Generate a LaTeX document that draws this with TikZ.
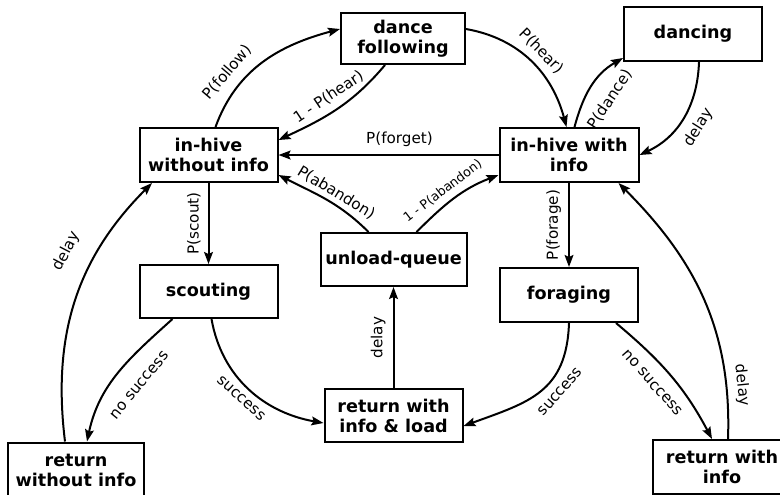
\documentclass[tikz,border=0pt]{standalone}
\usepackage{fontspec}
\setmainfont{DejaVu Sans}
\usetikzlibrary{arrows.meta}

\begin{document}
\begin{tikzpicture}[x=0.5pt,y=0.5pt,
	state/.style={draw,line width=1pt,align=center,minimum width=69pt,minimum height=26.5pt,inner sep=1pt,font=\fontsize{8.8}{10}\selectfont\bfseries},
	trans/.style={line width=1pt,-{Stealth[length=6pt,width=4.4pt,inset=1pt]}},
	lbl/.style={sloped,inner sep=3.5pt,font=\fontsize{7.6}{9}\selectfont},
	smalllbl/.style={lbl,inner sep=3pt,font=\fontsize{6.4}{8}\selectfont},
	vlbl/.style={rotate=90,anchor=south,inner sep=3.5pt,font=\fontsize{7.6}{9}\selectfont}]
	\useasboundingbox (0,0) rectangle (780,-494);

	\node[state,minimum width=62pt,minimum height=25.5pt] (follow) at (403,-38.5) {dance\\following};
	\node[state,minimum height=27pt] (dance) at (693,-34) {dancing};
	\node[state,minimum height=27pt] (nohive) at (208.5,-155) {in-hive\\without info};
	\node[state,minimum width=69.5pt,minimum height=27pt] (hive) at (569,-155) {in-hive with\\info};
	\node[state,minimum width=73pt] (unload) at (393.5,-259.5) {unload-queue};
	\node[state] (scout) at (208.5,-291.5) {scouting};
	\node[state,minimum height=27pt] (forage) at (569,-295) {foraging};
	\node[state] (retload) at (393.5,-415.5) {return with\\info \& load};
	\node[state,minimum width=68pt,minimum height=27.5pt] (retnone) at (76,-470) {return\\without info};
	\node[state,minimum height=27pt] (retinfo) at (722,-467) {return with\\info};

	\draw[trans] ([xshift=3.5pt]nohive.north) to[out=70,in=195] node[lbl,pos=0.3,above=1pt] {P(follow)} ([yshift=4.75pt]follow.west);
	\draw[trans] ([xshift=-9pt]follow.south) to[out=230,in=25] node[lbl,above] {1 - P(hear)} ([yshift=7.5pt]nohive.east);
	\draw[trans] ([yshift=4.75pt]follow.east) to[out=-10,in=105] node[lbl,above] {P(hear)} ([xshift=-1.25pt]hive.north);
	\draw[trans] ([xshift=2.75pt]hive.north) to[out=75,in=210] node[lbl,pos=0.5,below=4pt] {P(dance)} ([yshift=-12pt]dance.west);
	\draw[trans] ([xshift=3pt]dance.south) to[out=-92,in=25] node[lbl,below=1.5pt] {delay} (hive.east);
	\draw[trans] (hive.west) -- node[lbl,pos=0.45,above] {P(forget)} (nohive.east);
	\draw[trans] ([xshift=-12.5pt]unload.north) to[out=135,in=-27] node[lbl,pos=0.45,above=-2pt] {P(abandon)} ([yshift=-10pt]nohive.east);
	\draw[trans] ([xshift=11.5pt]unload.north) to[out=45,in=201] node[smalllbl,pos=0.45,above] {1 - P(abandon)} ([yshift=-10pt]hive.west);
	\draw[trans] (nohive.south) -- node[vlbl] {P(scout)} (scout.north);
	\draw[trans] (hive.south) -- node[vlbl] {P(forage)} (forage.north);
	\draw[trans] ([xshift=-18pt]scout.south) to[out=222,in=78] node[lbl,pos=0.47,below=6pt] {no success} ([xshift=5.5pt]retnone.north);
	\draw[trans] ([xshift=1.5pt]scout.south) to[out=-80,in=170] node[lbl,below] {success} ([yshift=-3.75pt]retload.west);
	\draw[trans] (retload.north) -- node[lbl,above] {delay} (unload.south);
	\draw[trans] (forage.south) to[out=-92,in=20,looseness=1.2] node[lbl,pos=0.4,below=1pt] {success} ([yshift=-5.25pt]retload.east);
	\draw[trans] ([xshift=23.5pt]forage.south) to[out=-40,in=118] node[lbl,pos=0.45,below=3pt] {no success} ([xshift=-5pt]retinfo.north);
	\draw[trans] ([xshift=3pt]retinfo.north) to[out=88,in=-45] node[lbl,pos=0.17,above] {delay} ([xshift=24.75pt]hive.south);
	\draw[trans] ([xshift=-5.5pt]retnone.north) to[out=97,in=225] node[lbl,pos=0.65,above=6pt] {delay} ([xshift=-28.25pt]nohive.south);
\end{tikzpicture}
\end{document}
